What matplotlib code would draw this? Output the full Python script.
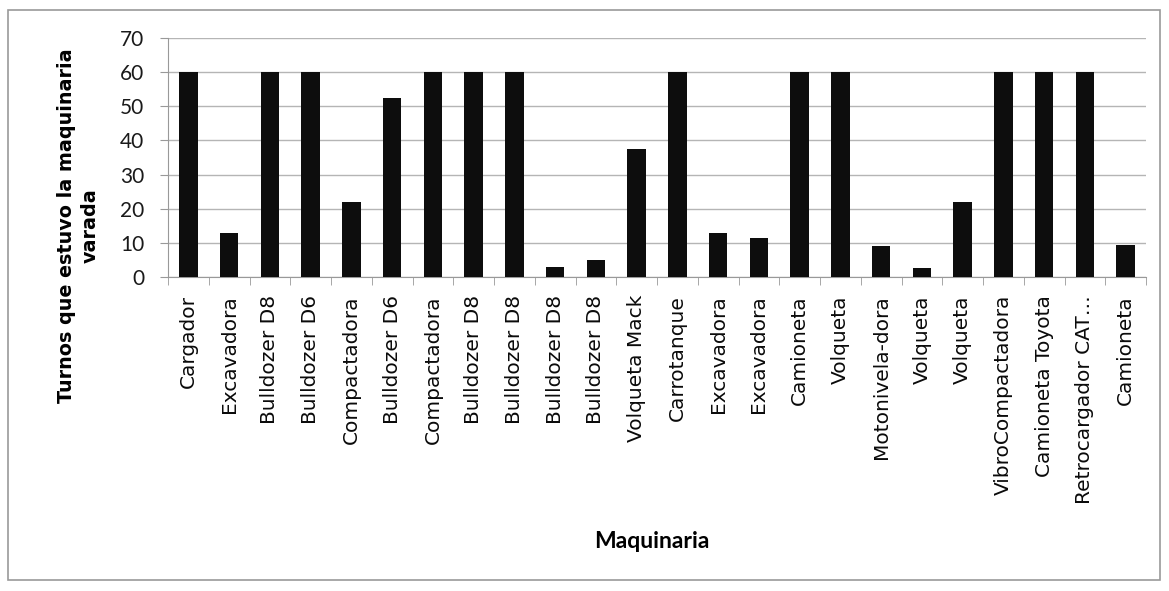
import matplotlib
matplotlib.use("Agg")
import matplotlib.pyplot as plt
import numpy as np
from matplotlib.patches import Rectangle

categories = ["Cargador", "Excavadora", "Bulldozer D8", "Bulldozer D6", "Compactadora",
              "Bulldozer D6", "Compactadora", "Bulldozer D8", "Bulldozer D8", "Bulldozer D8",
              "Bulldozer D8", "Volqueta Mack", "Carrotanque", "Excavadora", "Excavadora",
              "Camioneta", "Volqueta", "Motonivela-dora", "Volqueta", "Volqueta",
              "VibroCompactadora", "Camioneta Toyota", "Retrocargador CAT…", "Camioneta"]
values = [60, 13, 60, 60, 22, 52.5, 60, 60, 60, 3, 5, 37.5, 60, 13, 11.5, 60, 60, 9,
          2.5, 22, 60, 60, 60, 9.5]
yticks = [0, 10, 20, 30, 40, 50, 60, 70]

plt.rcParams['font.family'] = ['Lato', 'DejaVu Sans']

W, H = 1169, 591
fig = plt.figure(figsize=(W / 100, H / 100), dpi=100)
# outer frame
fig.patches.append(Rectangle((8 / W, 1 - 580 / H), 1152 / W, 570 / H, transform=fig.transFigure,
                             fill=False, edgecolor='#9a9a9a', linewidth=1.2))

ax = fig.add_axes([168 / W, 1 - 277 / H, (1146 - 168) / W, (277 - 38) / H])
x = np.arange(len(categories))
ax.bar(x, values, width=0.46, color='#0d0d0d', zorder=3)
ax.set_xlim(-0.5, len(categories) - 0.5)
ax.set_ylim(0, 70)
ax.set_yticks(yticks)
ax.set_yticklabels([str(v) for v in yticks], fontsize=15, color='#1a1a1a')
ax.set_xticks(x)
ax.set_xticklabels(categories, rotation=90, fontsize=14.5, color='#0a0a0a',
                   family=['DejaVu Sans'])
ax.set_xticks(np.arange(-0.5, len(categories), 1), minor=True)
ax.tick_params(axis='x', which='major', length=0, pad=13)
ax.tick_params(axis='x', which='minor', length=6, color='#999999')
ax.tick_params(axis='y', length=6, color='#999999', pad=11)
ax.yaxis.grid(True, color='#b5b5b5', linewidth=1.0, zorder=0)
for s in ['top', 'right']:
    ax.spines[s].set_visible(False)
ax.spines['left'].set_color('#999999')
ax.spines['bottom'].set_color('#999999')

fig.text(78 / W, 1 - 226 / H, "Turnos que estuvo la maquinaria\nvarada", rotation=90,
         fontsize=13.8, fontweight='bold', family=['DejaVu Sans'], linespacing=1.3,
         ha='center', va='center', multialignment='center')
fig.text(652 / W, 1 - 541 / H, "Maquinaria", fontsize=16.5, fontweight='bold',
         ha='center', va='center')

fig.savefig("out.png", dpi=100)
